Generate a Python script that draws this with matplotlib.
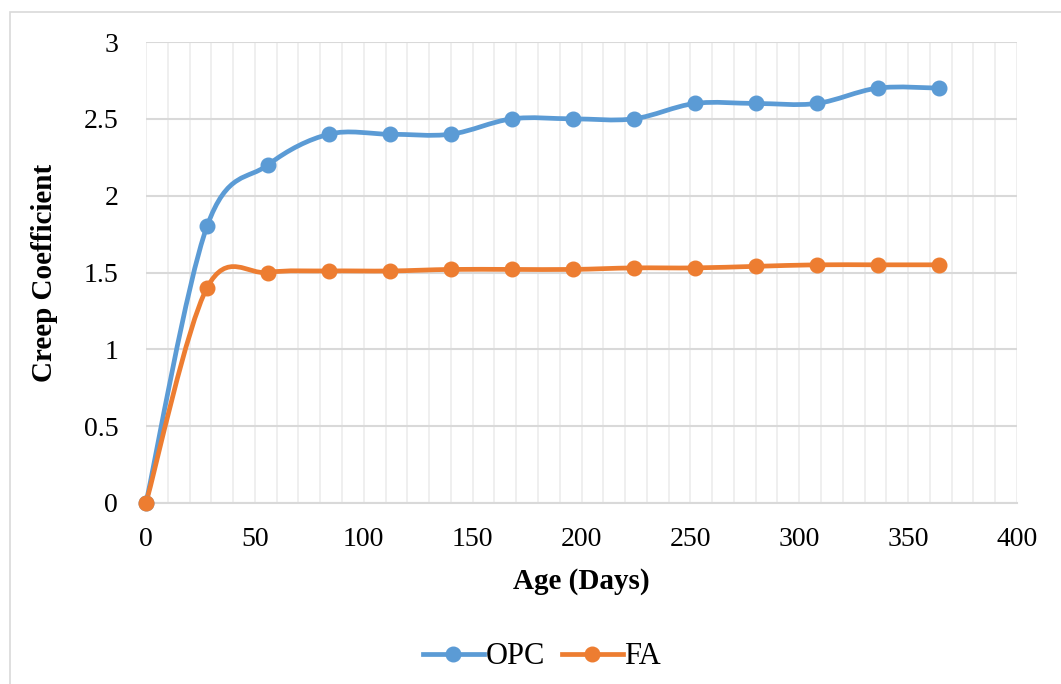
import numpy as np
import matplotlib
matplotlib.use("Agg")
import matplotlib.pyplot as plt
from matplotlib.path import Path
from matplotlib.patches import PathPatch, Rectangle
from matplotlib.lines import Line2D

age = [0, 28, 56, 84, 112, 140, 168, 196, 224, 252, 280, 308, 336, 364]
opc = [0, 1.8, 2.2, 2.4, 2.4, 2.4, 2.5, 2.5, 2.5, 2.6, 2.6, 2.6, 2.7, 2.7]
fa = [0, 1.4, 1.5, 1.51, 1.51, 1.52, 1.52, 1.52, 1.53, 1.53, 1.54, 1.55, 1.55, 1.55]

blue = "#5b9bd5"
orange = "#ed7d31"

plt.rcParams["font.family"] = ["Liberation Serif", "DejaVu Serif"]


def smooth_path(xs, ys):
    # Excel-like smoothing: Catmull-Rom turned into cubic Bezier segments
    p = np.column_stack([xs, ys]).astype(float)
    n = len(p)
    verts = [p[0]]
    codes = [Path.MOVETO]
    for i in range(n - 1):
        p0 = p[i - 1] if i > 0 else p[i]
        p1 = p[i]
        p2 = p[i + 1]
        p3 = p[i + 2] if i + 2 < n else p[i + 1]
        c1 = p1 + (p2 - p0) / 6.0
        c2 = p2 - (p3 - p1) / 6.0
        verts += [c1, c2, p2]
        codes += [Path.CURVE4] * 3
    return Path(verts, codes)


fig = plt.figure(figsize=(10.61, 6.84), dpi=100)
# chart area border (only left and top edges show in the crop)
fig.patches.append(Rectangle((10 / 1061, -0.1), 1.2, 1.1 - 12 / 684,
                             transform=fig.transFigure, facecolor="none",
                             edgecolor="#d9d9d9", lw=1.2))
ax = fig.add_axes([146 / 1061, 1 - 503 / 684, (1017 - 146) / 1061, (503 - 42) / 684])

for ys, col in [(opc, blue), (fa, orange)]:
    ax.add_patch(PathPatch(smooth_path(age, ys), facecolor="none", edgecolor=col,
                           lw=3.4, capstyle="round", joinstyle="round", zorder=3,
                           clip_on=False))
    ax.plot(age, ys, "o", color=col, markersize=10.5, zorder=4, clip_on=False)

ax.set_xlim(0, 400)
ax.set_ylim(0, 3)
ax.set_xticks(np.arange(0, 401, 50))
ax.set_xticks(np.arange(0, 401, 10), minor=True)
ax.set_yticks(np.arange(0, 3.01, 0.5))
ax.set_yticklabels(["0", "0.5", "1", "1.5", "2", "2.5", "3"])
ax.grid(True, which="minor", axis="x", color="#ececec", lw=1.2)
ax.grid(True, which="major", axis="x", color="#ececec", lw=1.2)
ax.grid(True, which="major", axis="y", color="#d9d9d9", lw=1.5)
ax.set_axisbelow(True)
for s in ["top", "right", "left"]:
    ax.spines[s].set_visible(False)
ax.spines["bottom"].set_color("#d9d9d9")
ax.spines["bottom"].set_linewidth(1.5)
ax.tick_params(which="both", length=0, labelsize=20)
ax.tick_params(axis="x", pad=17)
ax.tick_params(axis="y", pad=20)

ax.set_xlabel("Age (Days)", fontsize=21, fontweight="bold", labelpad=12)
ax.set_ylabel("Creep Coefficient", fontsize=21, fontweight="bold", labelpad=18)

handles = [Line2D([0], [0], color=blue, lw=3.4, marker="o", markersize=10.5),
           Line2D([0], [0], color=orange, lw=3.4, marker="o", markersize=10.5)]
fig.legend(handles, ["OPC", "FA"], loc="center", bbox_to_anchor=(542 / 1061, 1 - 657 / 684),
           ncol=2, frameon=False, fontsize=22, handlelength=2.0, columnspacing=0.55,
           handletextpad=0.05)

fig.savefig("out.png", dpi=100)
